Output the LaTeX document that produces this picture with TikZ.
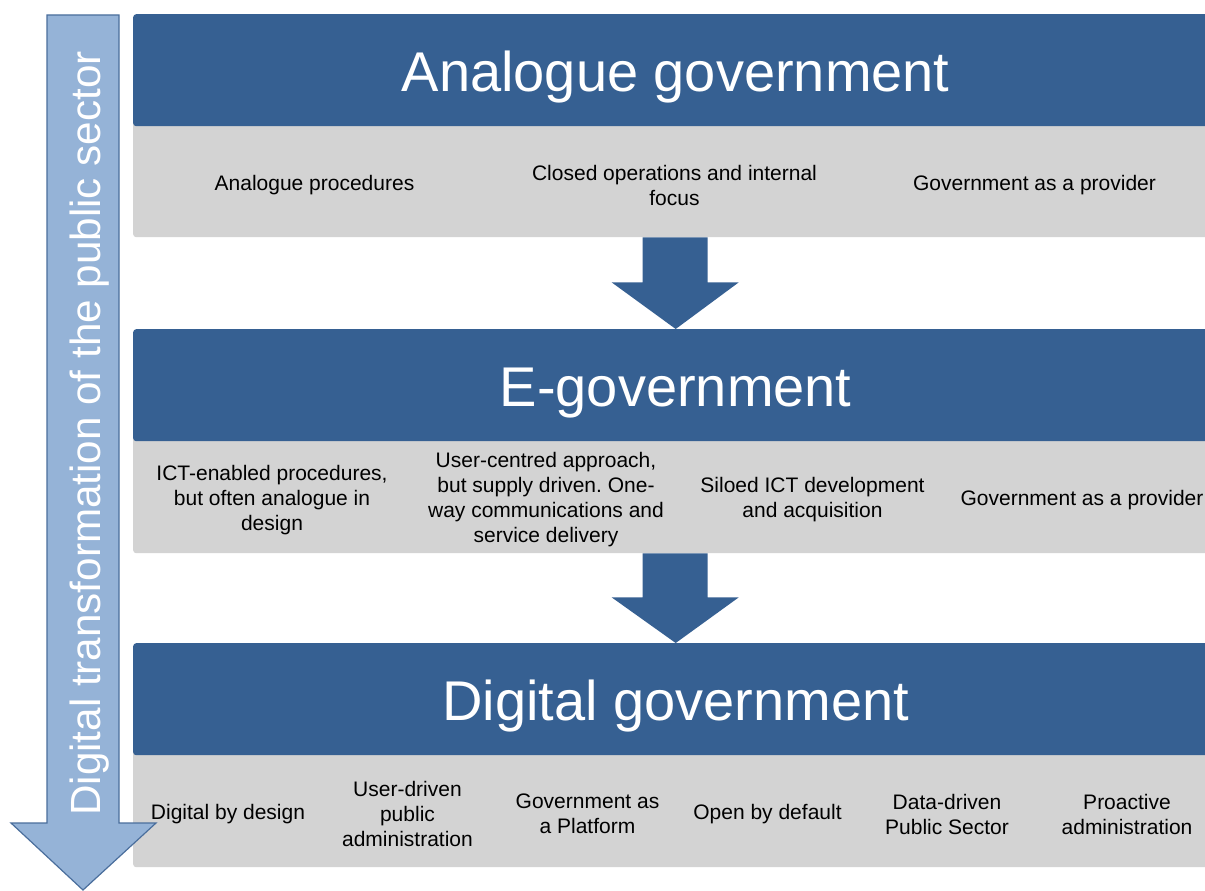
\documentclass[tikz,border=0pt]{standalone}
\usepackage{fontspec}
\setmainfont{Liberation Sans}
\usetikzlibrary{calc}
\definecolor{dblue}{HTML}{366092}
\definecolor{lgray}{HTML}{D3D3D3}
\definecolor{lblue}{HTML}{95B3D7}
\definecolor{bedge}{HTML}{4A6E9C}
\frenchspacing
\begin{document}
\begin{tikzpicture}[x=1pt,y=-1pt,
  titlebox/.style={fill=dblue, text=white, rounded corners=3pt, minimum width=1085pt,
    minimum height=112pt, inner sep=0pt, anchor=north west, text height=42pt, text depth=0pt,
    font=\fontsize{56}{60}\selectfont},
  band/.style={fill=lgray, rounded corners=3pt, minimum width=1085pt, inner sep=0pt, anchor=north west},
  item/.style={align=center, font=\fontsize{21}{25}\selectfont, text=black, inner sep=0pt},
  flow/.style={fill=dblue},
  side/.style={fill=lblue, draw=bedge, line width=1.2pt, line join=miter}]
\clip (0,0) rectangle (1205,891);
\fill[white] (0,0) rectangle (1205,891);

% rows
\node[band, minimum height=137pt] (aband) at (133,100) {};
\node[titlebox] (atitle) at (133,14) {Analogue government};
\node[band, minimum height=138pt] (eband) at (133,415) {};
\node[titlebox] (etitle) at (133,329) {E-government};
\node[band, minimum height=138pt] (dband) at (133,729) {};
\node[titlebox] (dtitle) at (133,643) {Digital government};

% side arrow
\draw[side] (47,15) -- (119,15) -- (119,823) -- (156,823) -- (83,890) -- (11,823) -- (47,823) -- cycle;
\node[rotate=90, anchor=base, text=white, inner sep=0pt, font=\fontsize{42.2}{46}\selectfont] (sidelabel) at (100,433.5) {Digital transformation of the public sector};

% flow arrows
\path (aband.south) coordinate (a1s) (etitle.north) coordinate (a1e);
\fill[flow] ($(a1s)+(-33,0)$) -- ($(a1s)+(32,0)$) -- ($(a1s)+(32,45)$) -- ($(a1s)+(63,45)$) -- (a1e)
  -- ($(a1s)+(-64,45)$) -- ($(a1s)+(-33,45)$) -- cycle;
\path (eband.south) coordinate (a2s) (dtitle.north) coordinate (a2e);
\fill[flow] ($(a2s)+(-33,0)$) -- ($(a2s)+(32,0)$) -- ($(a2s)+(32,44)$) -- ($(a2s)+(63,44)$) -- (a2e)
  -- ($(a2s)+(-64,44)$) -- ($(a2s)+(-33,44)$) -- cycle;

% analogue items
\node[item] (a1) at (314.5,185) {Analogue procedures};
\node[item] (a2) at (674.5,185) {Closed operations and internal\\focus};
\node[item] (a3) at (1034.5,185) {Government as a provider};

% e-government items
\node[item] (e1) at (272,500) {ICT-enabled procedures,\\but often analogue in\\design};
\node[item] (e2) at (546,500) {User-centred approach,\\but supply driven. One-\\way communications and\\service delivery};
\node[item] (e3) at (812.5,500) {Siloed ICT development\\and acquisition};
\node[item] (e4) at (1082,500) {Government as a provider};

% digital items
\node[item] (d1) at (228,814) {Digital by design};
\node[item] (d2) at (407.5,814) {User-driven\\public\\administration};
\node[item] (d3) at (587.5,814) {Government as\\a Platform};
\node[item] (d4) at (767.5,814) {Open by default};
\node[item] (d5) at (947,814) {Data-driven\\Public Sector};
\node[item] (d6) at (1127,814) {Proactive\\administration};
\end{tikzpicture}
\end{document}
